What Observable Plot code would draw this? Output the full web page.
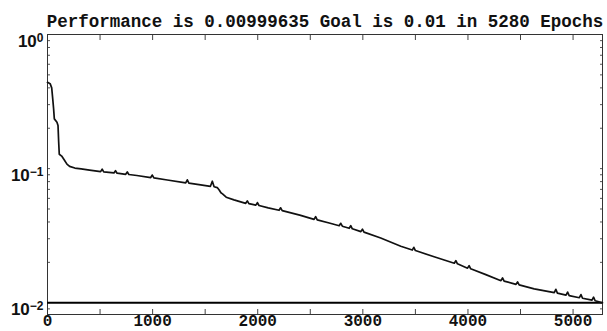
<!DOCTYPE html>
<html>
<head>
<meta charset="utf-8">
<script src="https://cdn.jsdelivr.net/npm/d3@7"></script>
<script src="https://cdn.jsdelivr.net/npm/@observablehq/plot@0.6"></script>
<style>
  html, body { margin: 0; padding: 0; background: #fff; }
  #chart svg { display: block; }
</style>
</head>
<body>
<div id="chart"></div>
<script>
const titleText = "Performance is 0.00999635 Goal is 0.01 in 5280 Epochs";
const goal = 0.01;
const xTicks = [0, 1000, 2000, 3000, 4000, 5000];
const xMinorTicks = [0, 500, 1000, 1500, 2000, 2500, 3000, 3500, 4000, 4500, 5000];
const yLabelTicks = [1, 0.1, 0.01];
const yExponents = {1: "0", 0.1: "-1", 0.01: "-2"};
const yMinorTicks = [0.009, 0.01, 0.02, 0.03, 0.04, 0.05, 0.06, 0.07, 0.08, 0.09,
                     0.1, 0.2, 0.3, 0.4, 0.5, 0.6, 0.7, 0.8, 0.9, 1];

const epochs = [0, 25, 40, 50, 58, 65, 90, 100, 106, 112, 135, 160, 185, 210, 260, 320, 400,
  505, 520, 535, 632, 647, 662, 744, 759, 774, 850, 982, 997, 1012, 1140,
  1315, 1330, 1345, 1457, 1550, 1568, 1585, 1615, 1635, 1650, 1665, 1700, 1774,
  1886, 1901, 1916, 1982, 1997, 2012, 2100, 2203, 2218, 2233, 2400,
  2536, 2551, 2566, 2680, 2775, 2790, 2805, 2870, 2885, 2900, 2981, 2996, 3011,
  3170, 3361, 3470, 3485, 3500, 3678, 3870, 3885, 3900, 3996, 4011, 4026, 4170,
  4314, 4329, 4344, 4457, 4472, 4487, 4630, 4821, 4836, 4851, 4933, 4948, 4963,
  5060, 5075, 5090, 5180, 5195, 5210, 5280];
const performance = [0.44, 0.43, 0.40, 0.33, 0.28, 0.235, 0.222, 0.21, 0.16, 0.128, 0.124, 0.116, 0.108, 0.104, 0.101, 0.0995, 0.0975,
  0.0950, 0.0990, 0.0946, 0.0928, 0.0965, 0.0924, 0.0907, 0.0945, 0.0904, 0.0888, 0.0858, 0.0895, 0.0854, 0.0822,
  0.0783, 0.0825, 0.0780, 0.0757, 0.0738, 0.0805, 0.0733, 0.0722, 0.0690, 0.0660, 0.0648, 0.0612, 0.0585,
  0.0551, 0.0575, 0.0548, 0.0534, 0.0558, 0.0531, 0.0510, 0.0489, 0.0510, 0.0486, 0.0450,
  0.0418, 0.0438, 0.0415, 0.0393, 0.0375, 0.0391, 0.0372, 0.0359, 0.0375, 0.0356, 0.0339, 0.0353, 0.0336,
  0.0304, 0.0264, 0.0247, 0.0259, 0.0245, 0.0220, 0.0197, 0.0206, 0.0195, 0.0181, 0.0189, 0.0179, 0.0162,
  0.0146, 0.0153, 0.0145, 0.0137, 0.0143, 0.0136, 0.0127, 0.0119, 0.0126, 0.0118, 0.0114, 0.0120, 0.0113,
  0.0109, 0.0115, 0.0108, 0.01045, 0.0110, 0.01035, 0.009996];

const data = epochs.map((e, i) => ({epoch: e, perf: performance[i]}));

const chart = Plot.plot({
  width: 607,
  height: 331,
  marginLeft: 47,
  marginRight: 5,
  marginTop: 34,
  marginBottom: 17,
  style: {background: "#fff", color: "#111"},
  x: {domain: [0, 5280], label: null},
  y: {type: "log", domain: [0.00817, 1], label: null},
  marks: [
    Plot.axisX(xMinorTicks, {anchor: "bottom", tickSize: -5, tickFormat: () => "", stroke: "#444", label: null}),
    Plot.axisX(xMinorTicks, {anchor: "top", tickSize: -5, tickFormat: () => "", stroke: "#444", label: null}),
    Plot.axisX(xTicks, {anchor: "bottom", tickSize: 0, tickPadding: 0, tickFormat: d => String(d), label: null,
      fontFamily: "Liberation Mono", fontWeight: "bold", fontSize: 16, fill: "#111"}),
    Plot.axisY(yMinorTicks, {anchor: "left", tickSize: -3, tickFormat: () => "", stroke: "#555", label: null}),
    Plot.axisY(yMinorTicks, {anchor: "right", tickSize: -3, tickFormat: () => "", stroke: "#555", label: null}),
    Plot.axisY(yLabelTicks, {anchor: "left", tickSize: 0, tickPadding: 4, dy: 7, label: null,
      tickFormat: d => "10|" + yExponents[d], ariaLabel: "ylabels",
      fontFamily: "Liberation Sans", fontWeight: "bold", fontSize: 17, fill: "#111"}),
    Plot.frame({stroke: "#333", strokeWidth: 1}),
    Plot.ruleY([goal], {stroke: "#000", strokeWidth: 2}),
    Plot.line(data, {x: "epoch", y: "perf", stroke: "#111", strokeWidth: 1.7, curve: "linear"}),
    Plot.text([titleText], {frameAnchor: "top", dy: -20, fontFamily: "Liberation Mono", fontWeight: "bold",
      fontSize: 17.5, fill: "#111"})
  ]
});

// render exponent labels as real superscripts
d3.select(chart).selectAll("text").each(function() {
  const t = d3.select(this);
  const s = t.text();
  if (s.startsWith("10|")) {
    const exp = s.slice(3).replace("-", "\u2212");
    t.text("");
    t.append("tspan").text("10");
    t.append("tspan").attr("dy", "-0.45em").attr("font-size", "12px").text(exp);
  }
});
document.getElementById("chart").appendChild(chart);
</script>
</body>
</html>
